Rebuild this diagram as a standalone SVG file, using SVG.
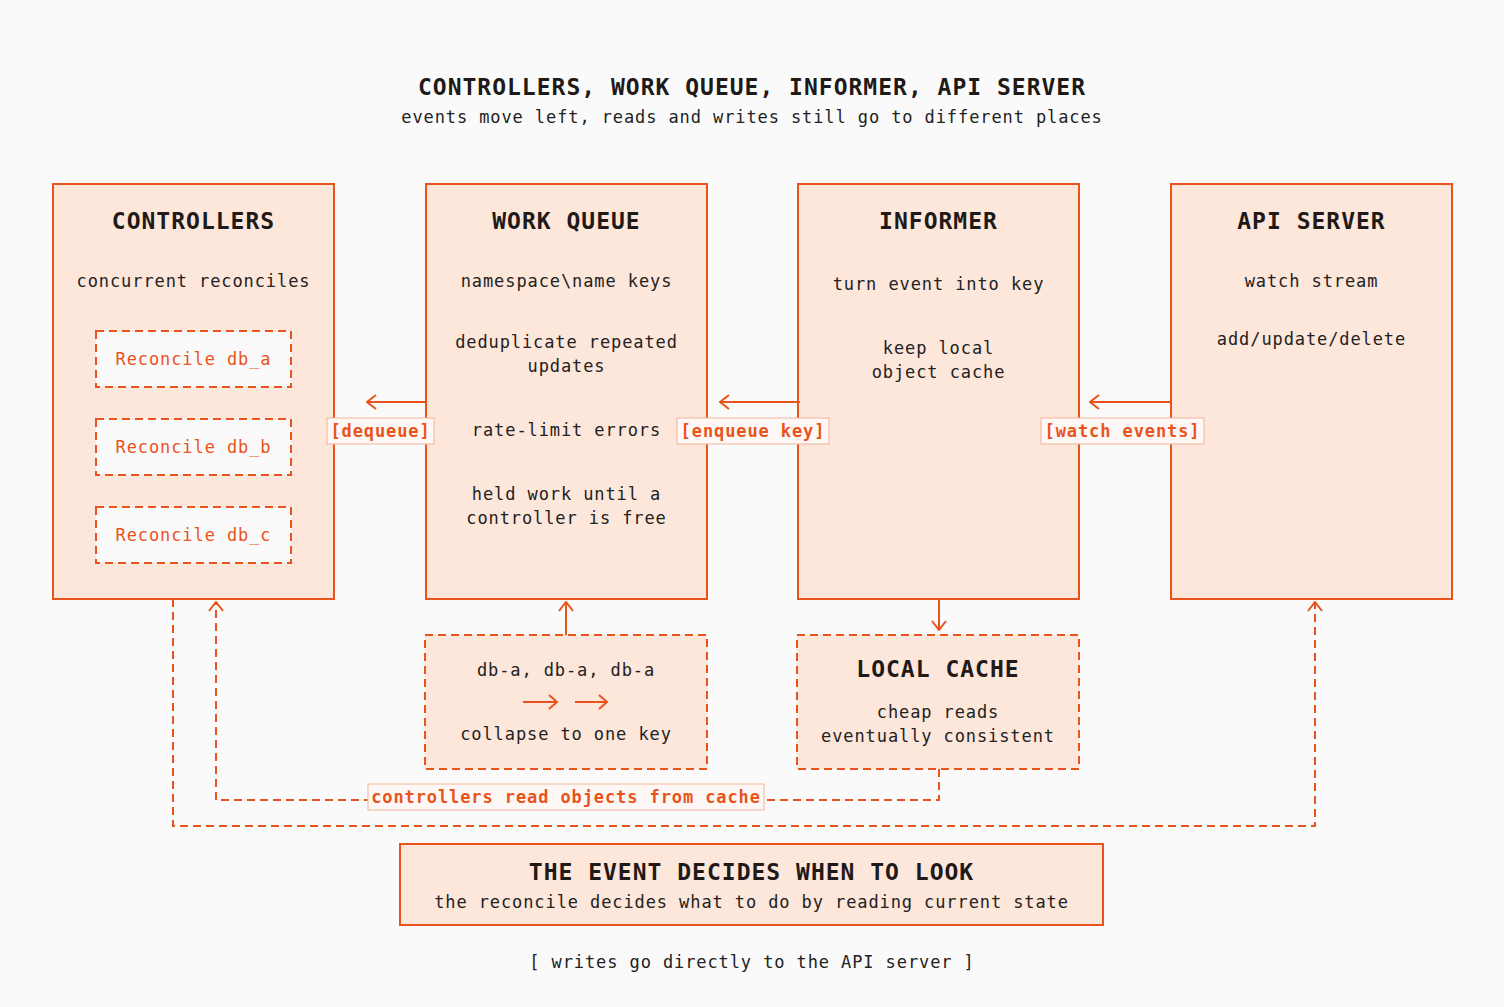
<svg xmlns="http://www.w3.org/2000/svg" width="1504" height="1007" viewBox="0 0 1504 1007">
<defs>
<style>
.bg{fill:#fafafa}
.box{fill:#fde6da;stroke:#e8541c;stroke-width:2}
.dbox{fill:#fde6da;stroke:#e8541c;stroke-width:2;stroke-dasharray:8 5}
.rbox{fill:#fafafa;stroke:#e8541c;stroke-width:2;stroke-dasharray:8 5}
.lbl{fill:#fdf8f5;stroke:#f2b39a;stroke-width:1}
.h{font-family:"DejaVu Sans Mono","Liberation Mono",monospace;font-size:23px;font-weight:bold;letter-spacing:1px;fill:#1f1a17;text-anchor:middle}
.t{font-family:"DejaVu Sans Mono","Liberation Mono",monospace;font-size:17px;letter-spacing:0.9px;fill:#222;text-anchor:middle}
.o{font-family:"DejaVu Sans Mono","Liberation Mono",monospace;font-size:17px;letter-spacing:0.9px;fill:#e8541c;text-anchor:middle}
.ob{font-family:"DejaVu Sans Mono","Liberation Mono",monospace;font-size:17px;letter-spacing:0.9px;font-weight:bold;fill:#e8541c;text-anchor:middle}
.ln{fill:none;stroke:#e8541c;stroke-width:2}
.dl{fill:none;stroke:#e8541c;stroke-width:2;stroke-dasharray:8 5}
</style>
<marker id="ah" viewBox="0 0 12 16" refX="11" refY="8" markerWidth="12" markerHeight="16" markerUnits="userSpaceOnUse" orient="auto">
<path d="M2,1 L11,8 L2,15" fill="none" stroke="#e8541c" stroke-width="2"/>
</marker>
</defs>
<rect class="bg" x="0" y="0" width="1504" height="1007"/>

<g id="title">
<text class="h" x="752" y="95">CONTROLLERS, WORK QUEUE, INFORMER, API SERVER</text>
<text class="t" x="752" y="123">events move left, reads and writes still go to different places</text>
</g>

<g id="controllers">
<rect class="box" x="53" y="184" width="281" height="415"/>
<text class="h" x="193.5" y="229">CONTROLLERS</text>
<text class="t" x="193.5" y="287">concurrent reconciles</text>
<g id="reconcile-a">
<rect class="rbox" x="96" y="331" width="195" height="56"/>
<text class="o" x="193.5" y="365">Reconcile db_a</text>
</g>
<g id="reconcile-b">
<rect class="rbox" x="96" y="419" width="195" height="56"/>
<text class="o" x="193.5" y="453">Reconcile db_b</text>
</g>
<g id="reconcile-c">
<rect class="rbox" x="96" y="507" width="195" height="56"/>
<text class="o" x="193.5" y="541">Reconcile db_c</text>
</g>
</g>

<g id="work-queue">
<rect class="box" x="426" y="184" width="281" height="415"/>
<text class="h" x="566.5" y="229">WORK QUEUE</text>
<text class="t" x="566.5" y="287">namespace\name keys</text>
<text class="t" x="566.5" y="348">deduplicate repeated</text>
<text class="t" x="566.5" y="372">updates</text>
<text class="t" x="566.5" y="436">rate-limit errors</text>
<text class="t" x="566.5" y="500">held work until a</text>
<text class="t" x="566.5" y="524">controller is free</text>
</g>

<g id="informer">
<rect class="box" x="798" y="184" width="281" height="415"/>
<text class="h" x="938.5" y="229">INFORMER</text>
<text class="t" x="938.5" y="290">turn event into key</text>
<text class="t" x="938.5" y="354">keep local</text>
<text class="t" x="938.5" y="378">object cache</text>
</g>

<g id="api-server">
<rect class="box" x="1171" y="184" width="281" height="415"/>
<text class="h" x="1311.5" y="229">API SERVER</text>
<text class="t" x="1311.5" y="287">watch stream</text>
<text class="t" x="1311.5" y="345">add/update/delete</text>
</g>

<g id="collapse">
<rect class="dbox" x="425" y="635" width="282" height="134"/>
<text class="t" x="566" y="676">db-a, db-a, db-a</text>
<path class="ln" d="M523,702 L557,702 M549,695 L557,702 L549,709 M575,702 L607,702 M599,695 L607,702 L599,709"/>
<text class="t" x="566" y="740">collapse to one key</text>
</g>

<g id="local-cache">
<rect class="dbox" x="797" y="635" width="282" height="134"/>
<text class="h" x="938" y="677">LOCAL CACHE</text>
<text class="t" x="938" y="718">cheap reads</text>
<text class="t" x="938" y="742">eventually consistent</text>
</g>

<g id="connectors">
<line class="ln" x1="426" y1="402" x2="367" y2="402" marker-end="url(#ah)"/>
<line class="ln" x1="800" y1="402" x2="720" y2="402" marker-end="url(#ah)"/>
<line class="ln" x1="1171" y1="402" x2="1090" y2="402" marker-end="url(#ah)"/>
<line class="ln" x1="566" y1="635" x2="566" y2="602" marker-end="url(#ah)"/>
<line class="ln" x1="939" y1="599" x2="939" y2="630" marker-end="url(#ah)"/>
<path class="dl" d="M939,769 L939,800 L216,800 L216,602" marker-end="url(#ah)"/>
<path class="dl" d="M173,599 L173,826 L1315,826 L1315,602" marker-end="url(#ah)"/>
<g id="label-dequeue">
<rect class="lbl" x="327" y="418" width="107" height="26"/>
<text class="ob" x="380.5" y="437">[dequeue]</text>
</g>
<g id="label-enqueue">
<rect class="lbl" x="677" y="418" width="152" height="26"/>
<text class="ob" x="753" y="437">[enqueue key]</text>
</g>
<g id="label-watch">
<rect class="lbl" x="1041" y="418" width="163" height="26"/>
<text class="ob" x="1122.5" y="437">[watch events]</text>
</g>
<g id="label-reads">
<rect class="lbl" x="368" y="784" width="396" height="26"/>
<text class="ob" x="566" y="803">controllers read objects from cache</text>
</g>
</g>

<g id="summary">
<rect class="box" x="400" y="844" width="703" height="81"/>
<text class="h" x="751.5" y="880">THE EVENT DECIDES WHEN TO LOOK</text>
<text class="t" x="751.5" y="908">the reconcile decides what to do by reading current state</text>
</g>

<g id="footer">
<text class="t" x="752" y="968">[ writes go directly to the API server ]</text>
</g>
</svg>
